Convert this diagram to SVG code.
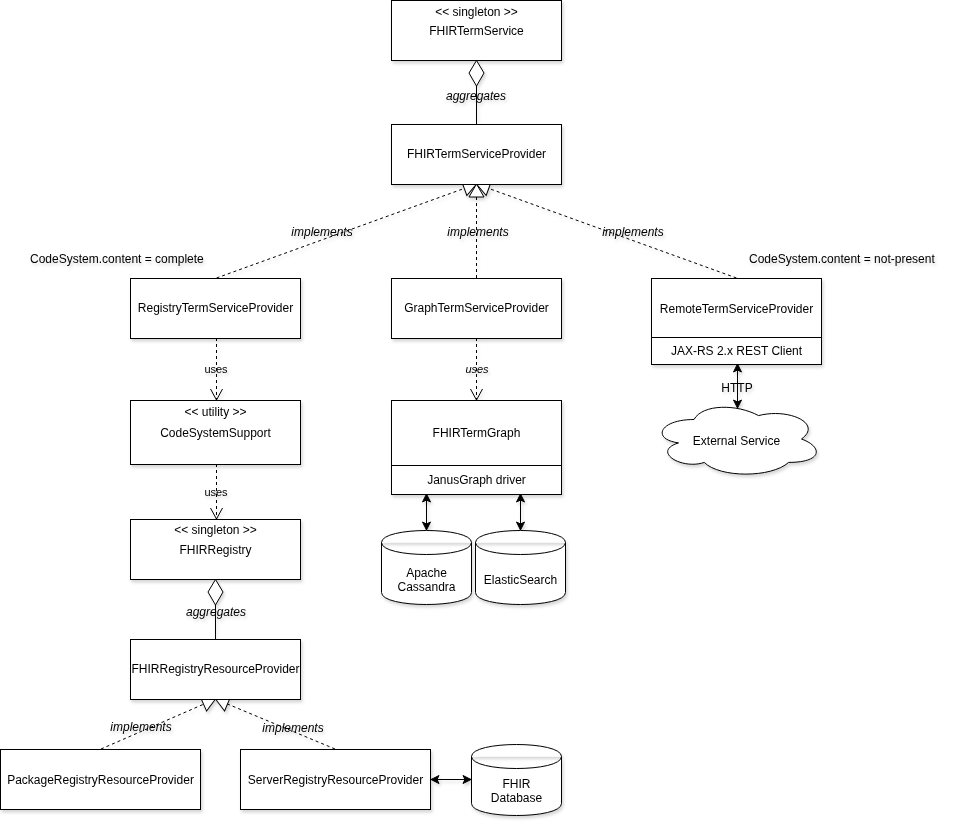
<svg xmlns="http://www.w3.org/2000/svg" width="953" height="829" viewBox="0 0 953 829">
<style>
text{font-family:"Liberation Sans",Arial,sans-serif;font-size:12px;fill:#000;text-anchor:middle}
.lbl{font-style:italic}
.sm{font-size:11px}
.note{text-anchor:start}
.box{fill:#fff;stroke:#000;stroke-width:1}
.ln{fill:none;stroke:#000;stroke-width:1}
.dash{stroke-dasharray:3 3}
</style>
<defs>
<filter id="sh" x="-10%" y="-10%" width="130%" height="140%">
<feDropShadow dx="1.5" dy="2.5" stdDeviation="1.5" flood-color="#000" flood-opacity="0.16"/>
</filter>
<marker id="tri" markerUnits="userSpaceOnUse" markerWidth="16" markerHeight="18" refX="14" refY="9" orient="auto" viewBox="0 0 16 18">
<path d="M1,1.5 L14,9 L1,16.5 Z" fill="#fff" stroke="#000" stroke-width="1"/>
</marker>
<marker id="open" markerUnits="userSpaceOnUse" markerWidth="14" markerHeight="14" refX="12" refY="7" orient="auto" viewBox="0 0 14 14">
<path d="M1,1 L12,7 L1,13" fill="none" stroke="#000" stroke-width="1"/>
</marker>
<marker id="cls" markerUnits="userSpaceOnUse" markerWidth="10" markerHeight="10" refX="9" refY="5" orient="auto-start-reverse" viewBox="0 0 10 10">
<path d="M1,1 L9,5 L1,9 L3,5 Z" fill="#000" stroke="#000" stroke-width="1"/>
</marker>
</defs>
<g filter="url(#sh)">
<g id="connectors">
<line class="ln" x1="476.5" y1="86" x2="476.5" y2="124"/>
<polygon points="476.5,60.5 484,73 476.5,86 469,73" fill="#fff" stroke="#000"/>
<text class="lbl" x="476" y="100">aggregates</text>
<line class="ln dash" x1="216.5" y1="278" x2="476.5" y2="184" marker-end="url(#tri)"/>
<line class="ln dash" x1="476.5" y1="278" x2="476.5" y2="184" marker-end="url(#tri)"/>
<line class="ln dash" x1="736.5" y1="278" x2="476.5" y2="184" marker-end="url(#tri)"/>
<text class="lbl" x="322" y="236">implements</text>
<text class="lbl" x="478" y="236">implements</text>
<text class="lbl" x="633" y="236">implements</text>
<line class="ln dash" x1="216.5" y1="338" x2="216.5" y2="400" marker-end="url(#open)"/>
<text class="sm" x="216" y="373">uses</text>
<line class="ln dash" x1="216.5" y1="464" x2="216.5" y2="519" marker-end="url(#open)"/>
<text class="sm" x="216" y="496">uses</text>
<line class="ln dash" x1="476.5" y1="338" x2="476.5" y2="400" marker-end="url(#open)"/>
<text class="sm lbl" x="477" y="373">uses</text>
<line class="ln" x1="737.5" y1="364" x2="737.5" y2="408" marker-start="url(#cls)" marker-end="url(#cls)"/>
<text x="737" y="392">HTTP</text>
<line class="ln" x1="426.5" y1="494" x2="426.5" y2="530" marker-start="url(#cls)" marker-end="url(#cls)"/>
<line class="ln" x1="520.5" y1="494" x2="520.5" y2="530" marker-start="url(#cls)" marker-end="url(#cls)"/>
<line class="ln" x1="215.5" y1="605" x2="215.5" y2="639"/>
<polygon points="215.5,579.5 223,592 215.5,605 208,592" fill="#fff" stroke="#000"/>
<text class="lbl" x="216" y="616">aggregates</text>
<line class="ln dash" x1="101" y1="749" x2="215.5" y2="699" marker-end="url(#tri)"/>
<line class="ln dash" x1="335" y1="749" x2="215.5" y2="699" marker-end="url(#tri)"/>
<text class="lbl" x="141" y="731">implements</text>
<text class="lbl" x="293" y="732">implements</text>
<line class="ln" x1="431" y1="779.5" x2="471" y2="779.5" marker-start="url(#cls)" marker-end="url(#cls)"/>
</g>
<g id="FHIRTermService">
<rect class="box" x="391.5" y="0.5" width="170" height="60"/>
<text x="476.5" y="16">&lt;&lt; singleton &gt;&gt;</text>
<text x="476.5" y="35">FHIRTermService</text>
</g>
<g id="FHIRTermServiceProvider">
<rect class="box" x="391.5" y="124.5" width="170" height="60"/>
<text x="476.5" y="158">FHIRTermServiceProvider</text>
</g>
<g id="note-complete">
<text class="note" x="30" y="263">CodeSystem.content = complete</text>
</g>
<g id="note-notpresent">
<text class="note" x="749" y="263">CodeSystem.content = not-present</text>
</g>
<g id="RegistryTermServiceProvider">
<rect class="box" x="130.5" y="278.5" width="170" height="60"/>
<text x="215.5" y="312">RegistryTermServiceProvider</text>
</g>
<g id="GraphTermServiceProvider">
<rect class="box" x="391.5" y="278.5" width="170" height="60"/>
<text x="476.5" y="312">GraphTermServiceProvider</text>
</g>
<g id="RemoteTermServiceProvider">
<rect class="box" x="651.5" y="278.5" width="170" height="86"/>
<line class="ln" x1="651.5" y1="337.5" x2="821.5" y2="337.5"/>
<text x="736.5" y="313">RemoteTermServiceProvider</text>
<text x="736.5" y="355">JAX-RS 2.x REST Client</text>
</g>
<g id="ExternalService">
<path class="box" d="M694,419.5 C659.6,419.5 651,439 678.5,442.9 C651,451.5 682,470.2 704.3,462.4 C719.8,478 771.4,478 788.6,462.4 C823,462.4 823,446.8 801.5,439 C823,423.4 788.6,407.8 758.5,415.6 C737,403.9 702.6,403.9 694,419.5 Z"/>
<text x="736.5" y="445">External Service</text>
</g>
<g id="CodeSystemSupport">
<rect class="box" x="130.5" y="400.5" width="170" height="64"/>
<text x="215.5" y="416">&lt;&lt; utility &gt;&gt;</text>
<text x="215.5" y="437">CodeSystemSupport</text>
</g>
<g id="FHIRTermGraph">
<rect class="box" x="391.5" y="400.5" width="170" height="94"/>
<line class="ln" x1="391.5" y1="465.5" x2="561.5" y2="465.5"/>
<text x="476.5" y="437">FHIRTermGraph</text>
<text x="476.5" y="484">JanusGraph driver</text>
</g>
<g id="ApacheCassandra">
<path class="box" d="M381.5,542.5 C381.5,526.5 471.5,526.5 471.5,542.5 L471.5,592.5 C471.5,608.5 381.5,608.5 381.5,592.5 Z M381.5,542.5 C381.5,558.5 471.5,558.5 471.5,542.5"/>
<text x="426.5" y="577">Apache</text>
<text x="426.5" y="591">Cassandra</text>
</g>
<g id="ElasticSearch">
<path class="box" d="M475.5,542.5 C475.5,526.5 565.5,526.5 565.5,542.5 L565.5,592.5 C565.5,608.5 475.5,608.5 475.5,592.5 Z M475.5,542.5 C475.5,558.5 565.5,558.5 565.5,542.5"/>
<text x="520.5" y="584">ElasticSearch</text>
</g>
<g id="FHIRRegistry">
<rect class="box" x="130.5" y="519.5" width="170" height="60"/>
<text x="215.5" y="534">&lt;&lt; singleton &gt;&gt;</text>
<text x="215.5" y="554">FHIRRegistry</text>
</g>
<g id="FHIRRegistryResourceProvider">
<rect class="box" x="130.5" y="639.5" width="170" height="60"/>
<text x="215.5" y="673">FHIRRegistryResourceProvider</text>
</g>
<g id="PackageRegistryResourceProvider">
<rect class="box" x="0.5" y="749.5" width="200" height="60"/>
<text x="100.5" y="784">PackageRegistryResourceProvider</text>
</g>
<g id="ServerRegistryResourceProvider">
<rect class="box" x="240.5" y="749.5" width="190" height="60"/>
<text x="335.5" y="784">ServerRegistryResourceProvider</text>
</g>
<g id="FHIRDatabase">
<path class="box" d="M471.5,756.5 C471.5,740.5 561.5,740.5 561.5,756.5 L561.5,803.5 C561.5,819.5 471.5,819.5 471.5,803.5 Z M471.5,756.5 C471.5,772.5 561.5,772.5 561.5,756.5"/>
<text x="516.5" y="788">FHIR</text>
<text x="516.5" y="802">Database</text>
</g>
</g>
</svg>
